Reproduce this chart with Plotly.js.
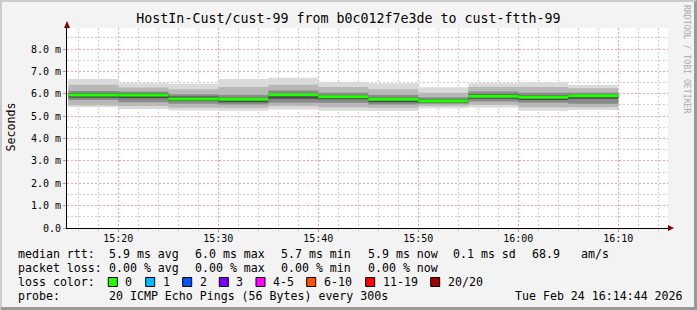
<!DOCTYPE html>
<html><head><meta charset="utf-8">
<script src="https://cdn.plot.ly/plotly-3.0.1.min.js"></script>
<style>
html,body{margin:0;padding:0;background:#f3f3f3;}
#wrap{position:relative;width:697px;height:310px;overflow:hidden;}
#frame{position:absolute;left:0;top:0;width:697px;height:310px;box-sizing:border-box;border-top:2px solid #cbcbcb;border-left:2px solid #cbcbcb;border-right:3px solid #999999;border-bottom:3px solid #999999;pointer-events:none;}
</style></head><body>
<div id="wrap"><div id="chart"></div><div id="frame"></div></div>
<script>
// ---- data ----
const DAY = '2026-02-24 ';
const segStart = ['15:15','15:20','15:25','15:30','15:35','15:40','15:45','15:50','15:55','16:00','16:05'];
const segEnd = '16:10';
// smoke (ms) per 5-minute step
const rttMin = [5.41,5.32,5.25,5.24,5.30,5.24,5.23,5.35,5.39,5.24,5.27];
const rttP10 = [5.49,5.45,5.38,5.38,5.45,5.40,5.38,5.45,5.50,5.40,5.40];
const rttP25 = [5.72,5.62,5.55,5.52,5.60,5.60,5.52,5.55,5.65,5.60,5.55];
const rttP40 = [5.82,5.80,5.68,5.62,5.78,5.75,5.62,5.60,5.78,5.72,5.78];
const rttP60 = [6.02,6.02,5.88,5.82,6.00,5.95,5.82,5.76,5.98,5.92,5.98];
const rttP75 = [6.12,6.10,5.98,5.95,6.15,6.05,5.95,5.85,6.10,6.05,6.05];
const rttP90 = [6.40,6.28,6.20,6.30,6.40,6.30,6.20,6.05,6.30,6.30,6.25];
const rttMax = [6.66,6.47,6.45,6.66,6.72,6.54,6.47,6.29,6.47,6.50,6.39];
const rttMedian = [5.95,5.95,5.77,5.75,5.96,5.87,5.75,5.68,5.89,5.84,5.91];

const yTickVals = [0,1,2,3,4,5,6,7,8];
const yTickText = ['0.0','1.0 m','2.0 m','3.0 m','4.0 m','5.0 m','6.0 m','7.0 m','8.0 m'];

const lossLabels = ['0','1','2','3','4-5','6-10','11-19','20/20'];
const lossColors = ['#26ff00','#00b8ff','#0059ff','#7e00ff','#ff00ff','#ff5500','#ff0000','#a10000'];

const titleText = 'HostIn-Cust/cust-99 from b0c012f7e3de to cust-ftth-99';
const legendRows = [
  [['median rtt:',16],['5.9 ms avg',107.3],['6.0 ms max',193.3],['5.7 ms min',279.3],['5.9 ms now',365.7],['0.1 ms sd',451],['68.9',530],['am/s',579.3]],
  [['packet loss:',16],['0.00 % avg',107.3],['0.00 % max',193.3],['0.00 % min',279.3],['0.00 % now',365.7]],
  [['loss color:',16]],
  [['probe:',16],['20 ICMP Echo Pings (56 Bytes) every 300s',107.3],['Tue Feb 24 16:14:44 2026',513.3]]
];
const legendRowY = [254.3,268.3,282,296];
const lossBoxX = [108.3,145.7,182.7,219.3,256,306.7,365.7,430.7];

// ---- geometry helpers (layout pixels -> paper) ----
const L = 67, R = 29, T = 28, B = 82, W = 697, H = 310;
const PW = W - L - R, PH = H - T - B;
const px = v => (v - L) / PW;
const py = v => (H - B - v) / PH;

// ---- traces ----
const X = segStart.map(t => DAY + t + ':00').concat([DAY + segEnd + ':00']);
const stepY = a => a.concat([a[a.length - 1]]);
const bands = [[rttMin, rttMax, '#dadada'], [rttP10, rttP90, '#b8b8b8'], [rttP25, rttP75, '#8a8a8a'], [rttP40, rttP60, '#4a4a4a']];
const traces = [];
bands.forEach(([lo, hi, c]) => {
  traces.push({x: X, y: stepY(lo), mode: 'lines', line: {width: 0, shape: 'hv'}, hoverinfo: 'skip', showlegend: false});
  traces.push({x: X, y: stepY(hi), mode: 'lines', line: {width: 0, shape: 'hv'}, fill: 'tonexty', fillcolor: c, hoverinfo: 'skip', showlegend: false});
});
const mx = [], my = [];
segStart.forEach((t, i) => {
  const e = i + 1 < segStart.length ? segStart[i + 1] : segEnd;
  mx.push(DAY + t + ':00', DAY + e + ':00', null);
  my.push(rttMedian[i], rttMedian[i], null);
});
traces.push({x: mx, y: my, mode: 'lines', line: {width: 3, color: '#1eff00'}, connectgaps: false, hoverinfo: 'skip', showlegend: false});

// ---- annotations ----
const mono = 'DejaVu Sans Mono';
const ann = [];
legendRows.forEach((row, r) => {
  row.forEach(([txt, x]) => {
    ann.push({text: txt, xref: 'paper', yref: 'paper', x: px(x), y: py(legendRowY[r]), xanchor: 'left', yanchor: 'middle', showarrow: false, font: {family: mono, size: 11.6, color: '#000'}});
  });
});
const shapes = [];
lossLabels.forEach((lab, i) => {
  const bx = lossBoxX[i];
  shapes.push({type: 'rect', xref: 'paper', yref: 'paper', x0: px(bx), x1: px(bx + 9), y0: py(legendRowY[2] - 4.5), y1: py(legendRowY[2] + 4.5), fillcolor: lossColors[i], line: {color: '#000', width: 1}});
  ann.push({text: lab, xref: 'paper', yref: 'paper', x: px(bx + 15), y: py(legendRowY[2]), xanchor: 'left', yanchor: 'middle', showarrow: false, font: {family: mono, size: 11.6, color: '#000'}});
});
ann.push({text: 'Seconds', xref: 'paper', yref: 'paper', x: px(10.5), y: py(127), xanchor: 'center', yanchor: 'middle', textangle: -90, showarrow: false, font: {family: mono, size: 11.6, color: '#000'}});
ann.push({text: 'RRDTOOL / TOBI OETIKER', xref: 'paper', yref: 'paper', x: px(687), y: py(59), xanchor: 'center', yanchor: 'middle', textangle: 90, showarrow: false, font: {family: mono, size: 8.2, color: '#aaaaaa'}});
// axis arrows
shapes.push({type: 'path', xref: 'paper', yref: 'paper', path: `M ${px(64)} ${py(28)} L ${px(70)} ${py(28)} L ${px(67)} ${py(21)} Z`, fillcolor: '#800000', line: {width: 0}});
shapes.push({type: 'path', xref: 'paper', yref: 'paper', path: `M ${px(668)} ${py(225)} L ${px(668)} ${py(231)} L ${px(674)} ${py(228)} Z`, fillcolor: '#800000', line: {width: 0}});

const layout = {
  width: W, height: H,
  margin: {l: L, r: R, t: T, b: B, pad: 0},
  paper_bgcolor: 'rgba(0,0,0,0)', plot_bgcolor: '#ffffff',
  showlegend: false,
  title: {text: titleText, font: {family: mono, size: 13.3, color: '#000'}, x: 0.5, xref: 'container', xanchor: 'center', y: 1 - 18 / H, yref: 'container', yanchor: 'middle'},
  xaxis: {
    type: 'date', range: [DAY + '15:14:52', DAY + '16:14:58'],
    tick0: DAY + '15:00:00', dtick: 600000, tickformat: '%H:%M',
    tickfont: {family: mono, size: 10, color: '#000'},
    ticks: 'outside', ticklen: 3, tickcolor: '#f08080', ticklabelstandoff: -2,
    showgrid: true, gridcolor: '#f4a0a0', griddash: '2px,2px', gridwidth: 1,
    minor: {dtick: 120000, showgrid: true, gridcolor: '#cfcfcf', griddash: '2px,2px', ticks: 'outside', ticklen: 2, tickcolor: '#cfcfcf'},
    showline: true, linecolor: '#000', linewidth: 1, zeroline: false, fixedrange: true
  },
  yaxis: {
    range: [0, 8.94], tickvals: yTickVals, ticktext: yTickText,
    tickfont: {family: mono, size: 10, color: '#000'},
    ticks: 'outside', ticklen: 3, tickcolor: '#f08080',
    showgrid: true, gridcolor: '#f4a0a0', griddash: '2px,2px', gridwidth: 1,
    minor: {dtick: 0.5, showgrid: true, gridcolor: '#cfcfcf', griddash: '2px,2px'},
    showline: true, linecolor: '#000', linewidth: 1, zeroline: false, fixedrange: true
  },
  annotations: ann, shapes: shapes
};
Plotly.newPlot('chart', traces, layout, {staticPlot: true, displayModeBar: false});
</script>
</body></html>
